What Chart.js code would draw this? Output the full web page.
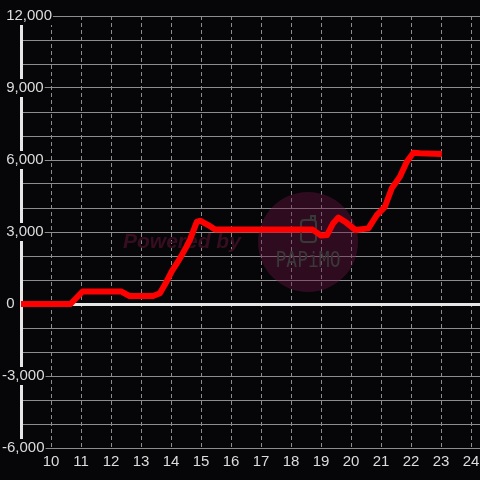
<!DOCTYPE html>
<html>
<head>
<meta charset="utf-8">
<script src="https://cdn.jsdelivr.net/npm/chart.js@4/dist/chart.umd.min.js"></script>
<style>
  html, body { margin: 0; padding: 0; background: #060608; }
  #wrap { width: 480px; height: 480px; }
</style>
</head>
<body>
<div id="wrap"><canvas id="plot-data"></canvas></div>
<script>
// hours of the day and the running total
const hours = [9.0, 10.65, 11.05, 12.35, 12.62, 13.4, 13.63, 13.86, 14.02, 14.3, 14.52, 14.63, 14.86, 14.97,
    15.24, 15.47, 18.72, 19.0, 19.2, 19.4, 19.58, 19.8, 20.15, 20.58, 20.86, 21.13, 21.36, 21.63, 21.86,
    22.08, 22.3, 22.93]
const totals = [0, 0, 520, 520, 330, 330, 450, 950, 1350, 1900, 2400, 2670, 3420, 3470,
    3290, 3100, 3100, 2850, 2870, 3350, 3600, 3430, 3080, 3150, 3700, 4050, 4820, 5300, 5930,
    6300, 6280, 6250]

const xTicks = [10, 11, 12, 13, 14, 15, 16, 17, 18, 19, 20, 21, 22, 23, 24]
const xMin = 9
const xMax = 24.3
const yMin = -6000
const yMax = 12000
const yStep = 1000
const yLabelStep = 3000

const bg = '#060608'

const plotD = []
for (let i = 0; i < hours.length; i++) {
    plotD.push({ x: hours[i], y: totals[i] })
}

// dark background + the "Powered by PAPiMO" watermark under the line
const watermark = {
    id: 'watermark',
    beforeDraw(chart) {
        const c = chart.ctx
        c.save()
        c.fillStyle = bg
        c.fillRect(0, 0, chart.width, chart.height)
        c.restore()
    },
    beforeDatasetsDraw(chart) {
        const c = chart.ctx
        c.save()
        c.fillStyle = 'rgba(110, 20, 70, 0.4)'
        c.beginPath()
        c.arc(308, 242, 50, 0, Math.PI * 2)
        c.fill()

        c.strokeStyle = '#383838'
        c.lineWidth = 2
        c.beginPath()
        c.roundRect(301, 220, 15, 22, 3)
        c.stroke()
        c.beginPath()
        c.moveTo(311, 220)
        c.lineTo(311, 216)
        c.lineTo(315, 216)
        c.lineTo(315, 220)
        c.stroke()

        c.fillStyle = '#393939'
        c.font = '22px "DejaVu Sans Mono"'
        c.textAlign = 'center'
        c.textBaseline = 'alphabetic'
        c.translate(308, 267)
        c.scale(0.82, 1)
        c.fillText('PAPiMO', 0, 0)
        c.restore()

        c.save()
        c.fillStyle = 'rgba(58, 14, 34, 0.95)'
        c.font = 'italic bold 21px "Liberation Sans", Arial'
        c.textAlign = 'left'
        c.textBaseline = 'alphabetic'
        c.fillText('Powered by', 123, 248)
        c.restore()
    }
}

var ctx = document.getElementById('plot-data').getContext('2d')
var graph = new Chart(ctx, {
    type: 'line',
    data: {
        datasets: [{
            borderColor: '#ff0000',
            borderWidth: 6,
            borderJoinStyle: 'round',
            borderCapStyle: 'square',
            radius: 0,
            tension: 0,
            data: plotD,
        }]
    },
    options: {
        responsive: true,
        maintainAspectRatio: false,
        animation: false,
        layout: {
            padding: { left: 2, top: 16, right: 0, bottom: 0 }
        },
        plugins: {
            legend: false,
            tooltip: { enabled: false }
        },
        scales: {
            x: {
                type: 'linear',
                min: xMin,
                max: xMax,
                afterBuildTicks(scale) {
                    scale.ticks = xTicks.map(v => ({ value: v }))
                },
                afterFit(scale) {
                    scale.height = 32
                    scale.paddingLeft = 0
                    scale.paddingRight = 0
                },
                ticks: {
                    stepSize: 1,
                    autoSkip: false,
                    maxRotation: 0,
                    padding: 5,
                    color: '#dcdcdc',
                    font: { family: '"Liberation Sans", Arial', size: 15 }
                },
                grid: {
                    color: '#8c8c8c',
                    lineWidth: 1,
                    drawTicks: false
                },
                border: { display: false, dash: [4, 3] }
            },
            y: {
                min: yMin,
                max: yMax,
                afterFit(scale) {
                    scale.width = 19
                },
                ticks: {
                    stepSize: yStep,
                    autoSkip: false,
                    mirror: true,
                    crossAlign: 'near',
                    padding: -19,
                    color: '#dcdcdc',
                    font: { family: '"Liberation Sans", Arial', size: 15 },
                    showLabelBackdrop: true,
                    backdropColor: bg,
                    backdropPadding: { top: 0, bottom: 0, left: 0, right: 1 },
                    callback(v) {
                        if (v % yLabelStep !== 0) return ''
                        const s = v.toLocaleString('en-US')
                        return v >= 0 ? ' ' + s : s
                    }
                },
                grid: {
                    color: c => c.tick && c.tick.value === 0 ? '#e6e6e6' : '#8c8c8c',
                    lineWidth: c => c.tick && c.tick.value === 0 ? 3 : 1,
                    drawTicks: false
                },
                border: { display: true, color: '#e6e6e6', width: 3 }
            }
        }
    },
    plugins: [watermark]
})
</script>
</body>
</html>
